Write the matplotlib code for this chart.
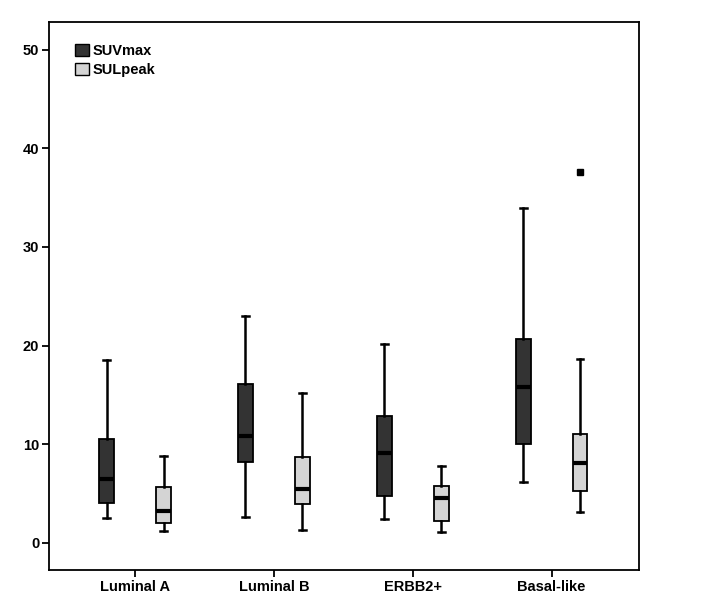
import matplotlib
matplotlib.use("Agg")
import matplotlib.pyplot as plt
from matplotlib.patches import Patch

plt.rcParams['font.family'] = ['Liberation Sans', 'DejaVu Sans']

categories = ["Luminal A", "Luminal B", "ERBB2+", "Basal-like"]
series = ["SUVmax", "SULpeak"]
colors = ["#333333", "#d4d4d4"]

# [whislo, q1, med, q3, whishi] per category
suvmax = [
    [2.57, 4.1, 6.5, 10.5, 18.5],
    [2.64, 8.18, 10.85, 16.1, 23.0],
    [2.43, 4.77, 9.13, 12.9, 20.2],
    [6.15, 10.07, 15.8, 20.7, 33.9],
]
sulpeak = [
    [1.25, 2.06, 3.2, 5.7, 8.85],
    [1.32, 3.99, 5.48, 8.7, 15.2],
    [1.12, 2.23, 4.53, 5.75, 7.8],
    [3.18, 5.24, 8.15, 11.05, 18.6],
]
outliers_suvmax = [[], [], [], []]
outliers_sulpeak = [[], [], [], [37.55]]

fig = plt.figure(figsize=(7.02, 6.05), dpi=100)
ax = fig.add_axes([49/702, 35/605, 590/702, 548/605])

def make_stats(data, fl):
    out = []
    for d, f in zip(data, fl):
        out.append(dict(whislo=d[0], q1=d[1], med=d[2], q3=d[3], whishi=d[4], fliers=f))
    return out

offset = 0.205
width = 0.108
for si, (data, fl) in enumerate([(suvmax, outliers_suvmax), (sulpeak, outliers_sulpeak)]):
    pos = [i + (-offset if si == 0 else offset) for i in range(len(categories))]
    ax.bxp(make_stats(data, fl), positions=pos, widths=width, patch_artist=True,
           showfliers=True,
           boxprops=dict(facecolor=colors[si], edgecolor='black', linewidth=1.3),
           medianprops=dict(color='black', linewidth=3),
           whiskerprops=dict(color='black', linewidth=1.8),
           capprops=dict(color='black', linewidth=1.8),
           capwidths=0.05,
           flierprops=dict(marker='s', markersize=4, markerfacecolor='black',
                           markeredgecolor='black'))

ax.set_xlim(-0.62, 3.63)
ax.set_ylim(-2.74, 52.8)
ax.set_xticks(range(len(categories)))
ax.set_xticklabels(categories, fontsize=10.5, fontweight='bold')
ax.set_yticks([0, 10, 20, 30, 40, 50])
ax.set_yticklabels(["0", "10", "20", "30", "40", "50"], fontsize=10.5, fontweight='bold')
ax.tick_params(direction='out', length=5, width=1.3, colors='black', pad=2)
for sp in ax.spines.values():
    sp.set_linewidth(1.3)

handles = [Patch(facecolor=c, edgecolor='black', linewidth=1) for c in colors]
leg = ax.legend(handles, series, loc='upper left', bbox_to_anchor=(0.035, 0.970),
                frameon=False, prop=dict(weight='bold', size=10.5),
                handlelength=0.9, handleheight=0.9, handletextpad=0.3,
                labelspacing=0.3, borderaxespad=0)

fig.savefig("out.png", dpi=100)
